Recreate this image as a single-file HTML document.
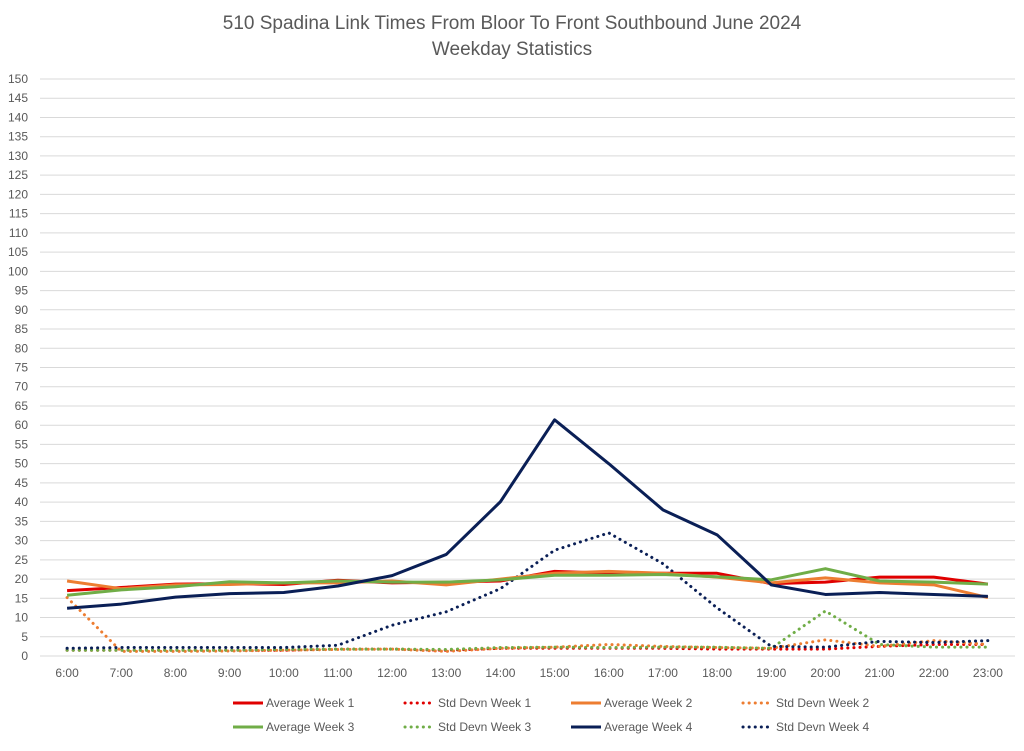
<!DOCTYPE html>
<html><head><meta charset="utf-8"><style>
body{margin:0;background:#fff;font-family:"Liberation Sans",sans-serif}
svg text{font-family:"Liberation Sans",sans-serif}
</style></head><body>
<svg id="chart" width="1024" height="746" xmlns="http://www.w3.org/2000/svg">
<text x="512" y="29" text-anchor="middle" font-size="19" fill="#595959">510 Spadina Link Times From Bloor To Front Southbound June 2024</text>
<text x="512" y="55" text-anchor="middle" font-size="19" fill="#595959">Weekday Statistics</text>
<g id="grid"></g><g id="series"></g><g id="legend"></g>
</svg>
<script>
const categories=["6:00","7:00","8:00","9:00","10:00","11:00","12:00","13:00","14:00","15:00","16:00","17:00","18:00","19:00","20:00","21:00","22:00","23:00"];
const yTicks=[0,5,10,15,20,25,30,35,40,45,50,55,60,65,70,75,80,85,90,95,100,105,110,115,120,125,130,135,140,145,150];
const avgW1=[17,17.8,18.7,18.8,18.6,19.7,19,19.2,19.5,22,21.5,21.5,21.5,18.8,19.2,20.5,20.5,18.7];
const sdW1=[1.5,1.5,1.5,1.5,1.5,1.8,1.8,1.5,2,2,2,2,1.8,1.8,1.8,2.5,3,3];
const avgW2=[19.5,17.5,18.5,18.6,19,19,19.5,18.5,20,21.5,22,21.5,20.5,19,20.3,19,18.5,15.2];
const sdW2=[15.2,1.2,1.2,1.3,1.5,1.7,1.8,1.2,2,2.3,3,2.5,2.2,2,4.2,2.5,4,3];
const avgW3=[15.8,17.2,18,19.3,19,19.5,19.2,19.2,19.8,21,21,21.2,20.6,19.8,22.7,19.5,19.2,18.7];
const sdW3=[1.5,1.5,1.5,1.5,1.7,1.8,1.8,1.7,2.2,2.3,2.2,2.3,2.3,2,11.7,3,2.3,2.3];
const avgW4=[12.4,13.5,15.3,16.2,16.5,18.2,20.9,26.4,40.1,61.4,50,38,31.5,18.5,16,16.5,16,15.5];
const sdW4=[2,2.2,2.2,2.2,2.2,2.8,8,11.5,17.5,27.5,32,24,12.5,2.5,2.3,3.8,3.5,4];
const seriesNames=["Average Week 1","Std Devn Week 1","Average Week 2","Std Devn Week 2","Average Week 3","Std Devn Week 3","Average Week 4","Std Devn Week 4"];
const NS="http://www.w3.org/2000/svg";
const L=40,R=1015,T=79,B=656,yMax=150;
const bw=(R-L)/categories.length;
const x=i=>L+bw*(i+0.5);
const y=v=>B-(v/yMax)*(B-T);
function mk(tag,attrs,parent){const e=document.createElementNS(NS,tag);for(const k in attrs)e.setAttribute(k,attrs[k]);parent.appendChild(e);return e;}
const grid=document.getElementById('grid');
yTicks.forEach(t=>{
  const l=mk('line',{x1:L,x2:R,y1:y(t),y2:y(t),stroke:'#d9d9d9','stroke-width':1},grid);
  
  
  const tx=mk('text',{x:28,y:y(t)+4,'text-anchor':'end','font-size':12,fill:'#595959'},grid);
  tx.textContent=t;
  
  
});
categories.forEach((c,i)=>{
  const tx=mk('text',{x:x(i),y:677,'text-anchor':'middle','font-size':12,fill:'#595959'},grid);
  tx.textContent=c;
  
  
});
const colors=["#e00000","#e00000","#ed7d31","#ed7d31","#70ad47","#70ad47","#0a1f56","#0a1f56"];
const dataList=[avgW1,sdW1,avgW2,sdW2,avgW3,sdW3,avgW4,sdW4];
const sg=document.getElementById('series');
const order=[1,3,5,7,0,2,4,6];
order.forEach(k=>{
  const d=dataList[k];const dotted=k%2===1;
  const p=mk('polyline',{points:d.map((v,i)=>x(i)+','+y(v)).join(' '),fill:'none',stroke:colors[k],'stroke-width':3,'stroke-linejoin':'round','stroke-linecap':dotted?'round':'butt','stroke-dasharray':dotted?'0.1 6':'none'},sg);
  
  
});
const lg=document.getElementById('legend');
const lx=[233,405,571,743];
seriesNames.forEach((n,k)=>{
  const row=Math.floor(k/4),col=k%4;
  const yy=row?727:703;const xx=lx[col];const dotted=k%2===1;
  const g=mk('g',{},lg);
  
  
  mk('line',{x1:xx,x2:xx+30,y1:yy,y2:yy,stroke:colors[k],'stroke-width':3,'stroke-linecap':dotted?'round':'butt','stroke-dasharray':dotted?'0.1 6':'none'},g);
  const t=mk('text',{x:xx+33,y:yy+4,'font-size':12,fill:'#595959'},g);
  t.textContent=n;
});
</script>
</body></html>
